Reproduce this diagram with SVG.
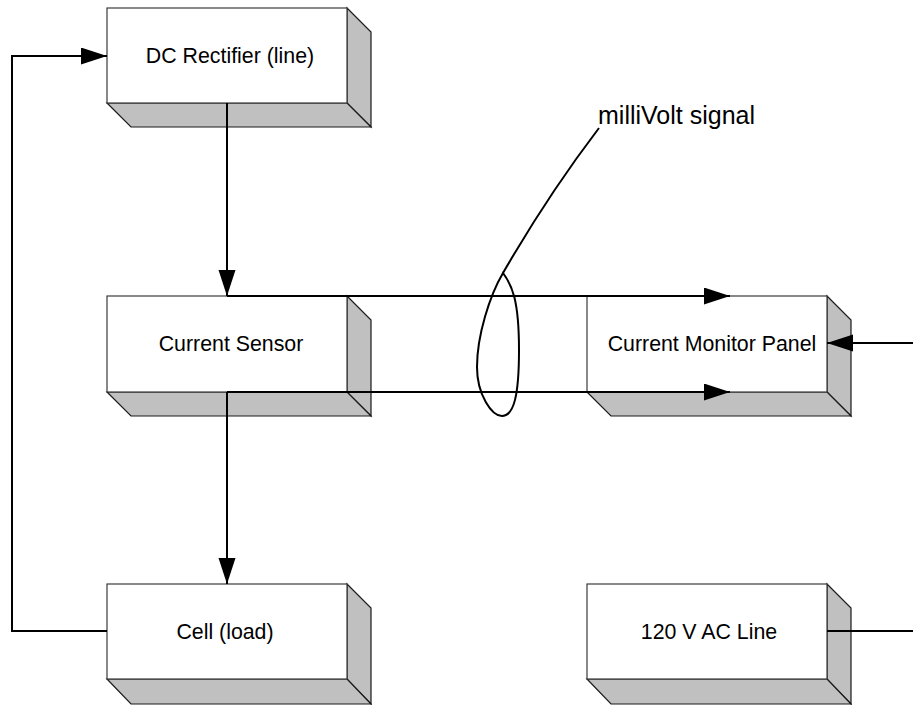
<svg xmlns="http://www.w3.org/2000/svg" width="913" height="705" viewBox="0 0 913 705">
<style>
.front{fill:#fff;stroke:#3a3a3a;stroke-width:1.2}
.side{fill:#c0c0c0;stroke:#1a1a1a;stroke-width:1.2;stroke-linejoin:miter}
.lbl{font-family:"Liberation Sans",Arial,sans-serif;font-size:21.33px;fill:#000;text-anchor:middle}
.wire{fill:none;stroke:#000;stroke-width:2}
.thin{fill:none;stroke:#000;stroke-width:2}
</style>
<defs>
<marker id="ah" markerUnits="userSpaceOnUse" markerWidth="27" markerHeight="18" refX="26" refY="8.5" orient="auto">
<path d="M0,0 L26,8.5 L0,17 Z" fill="#000"/>
</marker>
</defs>
<rect width="913" height="705" fill="#fff"/>

<g id="dc-rectifier">
<polygon class="side" points="347,8 371,32 371,127 347,103"/>
<polygon class="side" points="107,103 347,103 371,127 131,127"/>
<rect class="front" x="107" y="8" width="240" height="95"/>
<text class="lbl" x="230" y="63">DC Rectifier (line)</text>
</g>

<g id="current-sensor">
<polygon class="side" points="347,296 371,320 371,416 347,392"/>
<polygon class="side" points="107,392 347,392 371,416 131,416"/>
<rect class="front" x="107" y="296" width="240" height="96"/>
<text class="lbl" x="231" y="351">Current Sensor</text>
</g>

<g id="current-monitor-panel">
<polygon class="side" points="827,296 851,320 851,416 827,392"/>
<polygon class="side" points="587,392 827,392 851,416 611,416"/>
<rect class="front" x="587" y="296" width="240" height="96"/>
<text class="lbl" x="712" y="351">Current Monitor Panel</text>
</g>

<g id="cell-load">
<polygon class="side" points="347,584 371,608 371,704 347,679"/>
<polygon class="side" points="107,679 347,679 371,704 131,704"/>
<rect class="front" x="107" y="584" width="240" height="95"/>
<text class="lbl" x="225" y="639">Cell (load)</text>
</g>

<g id="ac-line">
<polygon class="side" points="827,584 851,608 851,704 827,679"/>
<polygon class="side" points="587,679 827,679 851,704 611,704"/>
<rect class="front" x="587" y="584" width="240" height="95"/>
<text class="lbl" x="709" y="639">120 V AC Line</text>
</g>

<g id="connectors">
<path class="wire" d="M227,103 V296" marker-end="url(#ah)"/>
<path class="wire" d="M107,631 H12 V56 H107" marker-end="url(#ah)"/>
<path class="wire" d="M227,296 H730" marker-end="url(#ah)"/>
<path class="wire" d="M227,392 H730" marker-end="url(#ah)"/>
<path class="wire" d="M227,392 V584" marker-end="url(#ah)"/>
<path class="wire" d="M913,343 H827" marker-end="url(#ah)"/>
<path class="wire" d="M827,631 H913"/>
</g>

<g id="millivolt-signal">
<path class="thin" d="M599,128 Q548,195 503,273"/>
<path class="thin" d="M503,273 C490,295 477,335 477,367 C477,395 492,416 502,416 C514,416 519,395 519,350 C519,300 512,285 503,273 Z"/>
<text x="598" y="124" font-family="'Liberation Sans',Arial,sans-serif" font-size="25" fill="#000">milliVolt signal</text>
</g>
</svg>
